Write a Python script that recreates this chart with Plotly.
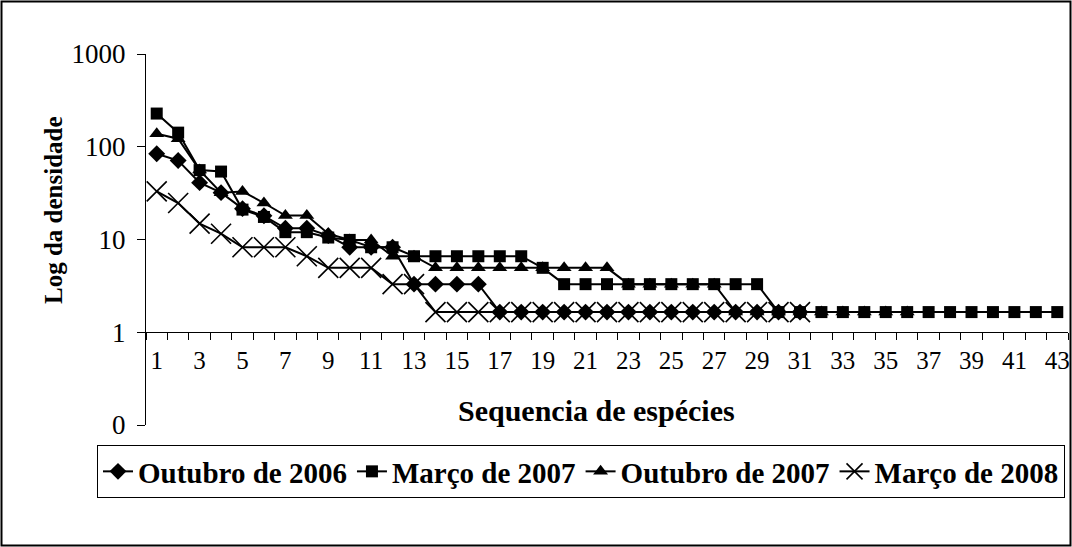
import plotly.graph_objects as go

# Species rank (sequence) on the x axis
species_rank = list(range(1, 44))

# Density values per sampling campaign, ranked from most to least abundant
out_2006 = [84, 71, 41, 32, 21.5, 18, 13.2, 13.2, 11, 8.25, 8.25, 8.25, 3.3, 3.3, 3.3, 3.3,
            1.65, 1.65, 1.65, 1.65, 1.65, 1.65, 1.65, 1.65, 1.65, 1.65, 1.65, 1.65, 1.65, 1.65, 1.65]
mar_2007 = [228, 142, 56, 54, 21, 17.5, 12, 12, 10.5, 9.9, 8.25, 8.25, 6.6, 6.6, 6.6, 6.6, 6.6, 6.6,
            4.95, 3.3, 3.3, 3.3, 3.3, 3.3, 3.3, 3.3, 3.3, 3.3, 3.3, 1.65, 1.65, 1.65, 1.65, 1.65,
            1.65, 1.65, 1.65, 1.65, 1.65, 1.65, 1.65, 1.65, 1.65]
out_2007 = [138, 122, 56, 32, 33, 24.75, 18.15, 18.15, 11.55, 9.9, 9.9, 6.6, 6.6, 4.95, 4.95, 4.95,
            4.95, 4.95, 4.95, 4.95, 4.95, 4.95, 3.3, 3.3, 3.3, 3.3, 3.3, 1.65, 1.65, 1.65, 1.65,
            1.65, 1.65, 1.65, 1.65, 1.65]
mar_2008 = [33, 24.75, 14.85, 11.55, 8.25, 8.25, 8.25, 6.6, 4.95, 4.95, 4.95, 3.3, 3.3, 1.65, 1.65,
            1.65, 1.65, 1.65, 1.65, 1.65, 1.65, 1.65, 1.65, 1.65, 1.65, 1.65, 1.65, 1.65, 1.65, 1.65, 1.65]

series_names = ["Outubro de 2006", "Março de 2007", "Outubro de 2007", "Março de 2008"]
x_tick_labels = [str(v) for v in species_rank if v % 2 == 1]
y_tick_vals = [0.1, 1, 10, 100, 1000]
y_tick_text = ["0", "1", "10", "100", "1000"]

W, H = 1072, 547
FONT = "Liberation Serif"

series = [
    (series_names[0], out_2006, dict(symbol="diamond", size=13, color="black")),
    (series_names[1], mar_2007, dict(symbol="square", size=12, color="black")),
    (series_names[2], out_2007, dict(symbol="triangle-up", size=13, color="black")),
    (series_names[3], mar_2008, dict(symbol="x-thin", size=20, color="black",
                                     line=dict(width=1.6, color="black"))),
]

fig = go.Figure()
for name, vals, marker in series:
    fig.add_trace(go.Scatter(
        x=species_rank[:len(vals)], y=vals, name=name, mode="lines+markers",
        line=dict(color="black", width=2), marker=marker,
    ))

x_left, x_right = 146 / W, 1068 / W
y_bottom, y_top = 1 - 425 / H, 1 - 54 / H
x_axis_pos = 1 - 332 / H

fig.update_layout(
    width=W, height=H,
    margin=dict(l=0, r=0, t=0, b=0, autoexpand=False),
    paper_bgcolor="white", plot_bgcolor="white",
    font=dict(family=FONT, color="black", size=25),
    showlegend=True,
    legend=dict(
        orientation="h", x=97 / W, y=1 - 445 / H, xanchor="left", yanchor="top",
        bordercolor="black", borderwidth=1, bgcolor="white",
        font=dict(family=FONT, size=29, color="black", weight="bold"),
        itemwidth=30, tracegroupgap=0,
    ),
    xaxis=dict(
        domain=[x_left, x_right], range=[0.5, 43.5],
        anchor="free", position=x_axis_pos, automargin=False,
        showgrid=False, zeroline=False,
        showline=True, linecolor="black", linewidth=1,
        tickmode="array", tickvals=[int(t) for t in x_tick_labels], ticktext=x_tick_labels,
        ticks="", ticklabelstandoff=6,
        tickfont=dict(family=FONT, size=25, color="black"),
        minor=dict(tick0=0.5, dtick=1, ticks="outside", ticklen=7,
                   tickcolor="black", tickwidth=1, showgrid=False),
    ),
    yaxis=dict(
        type="log", domain=[y_bottom, y_top], range=[-1, 3], automargin=False,
        showgrid=False, zeroline=False,
        showline=True, linecolor="black", linewidth=1,
        tickmode="array", tickvals=y_tick_vals, ticktext=y_tick_text,
        ticks="outside", ticklen=8, tickcolor="black", ticklabelstandoff=6,
        tickfont=dict(family=FONT, size=27, color="black"),
    ),
    annotations=[
        dict(text="<b>Log da densidade</b>", xref="paper", yref="paper",
             x=53 / W, y=1 - 210 / H, xanchor="center", yanchor="middle",
             textangle=-90, showarrow=False,
             font=dict(family=FONT, size=25, color="black")),
        dict(text="<b>Sequencia de espécies</b>", xref="paper", yref="paper",
             x=596 / W, y=1 - 410 / H, xanchor="center", yanchor="middle",
             showarrow=False,
             font=dict(family=FONT, size=30, color="black")),
    ],
    shapes=[
        dict(type="rect", xref="paper", yref="paper",
             x0=1.5 / W, x1=1 - 1.5 / W, y0=1.5 / H, y1=1 - 1.5 / H,
             line=dict(color="black", width=2), fillcolor="rgba(0,0,0,0)"),
    ],
)

fig.write_html("out.html")
